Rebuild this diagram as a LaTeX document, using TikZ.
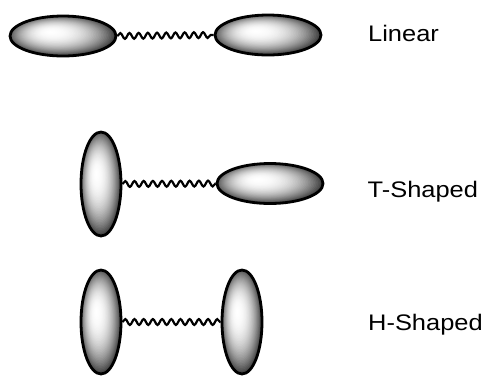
\documentclass[tikz,border=0pt]{standalone}
\usepackage{fontspec}
\setmainfont{Liberation Sans}
\usetikzlibrary{shapes.geometric,decorations.pathmorphing}
% stacked ellipses: dark rim fading to a white highlight at the upper left
% #1 = x radius, #2 = y radius (in pt)
\newcommand\lobeshading[2]{%
  \foreach \k in {0,...,44}{%
    \pgfmathsetmacro\t{\k/45}%
    \pgfmathsetmacro\p{100*(1-(1-\t)^2.3)}%
    \pgfmathsetmacro\sx{(1-\t)*1.16*#1}%
    \pgfmathsetmacro\sy{(1-\t)*1.16*#2}%
    \pgfmathsetmacro\ox{-0.24*\t*#1}%
    \pgfmathsetmacro\oy{0.2*\t*#2}%
    \fill[white!\p!black,shift={(path picture bounding box.center)}]
      (\ox pt,\oy pt) ellipse [x radius=\sx pt,y radius=\sy pt];
  }}
\begin{document}
\begin{tikzpicture}[x=1pt,y=-1pt,
  lobe/.style={ellipse,draw=black,line width=2.8pt,inner sep=0pt},
  hlobe/.style={lobe,minimum width=106pt,minimum height=40pt,
    path picture={\lobeshading{53}{20}}},
  vlobe/.style={lobe,minimum width=40pt,minimum height=104pt,
    path picture={\lobeshading{20}{52}}},
  spring/.style={line width=2.2pt,decorate,
    decoration={snake,segment length=9.2pt,amplitude=2.9pt}},
  label/.style={inner sep=0pt,anchor=base west,
    font=\fontsize{22.5pt}{27pt}\selectfont}]
\useasboundingbox (0,0) rectangle (490,376);

% Linear
\node[hlobe] (l1) at (63,36) {};
\node[hlobe] (l2) at (268,35) {};
\draw[spring] (l1.east) -- (l2.west);
\node[label] (tl) at (368,41) {\scalebox{1.13}[1]{Linear}};

% T-shaped
\node[vlobe] (t1) at (101,184) {};
\node[hlobe] (t2) at (270,183.5) {};
\draw[spring] (t1.east) -- (t2.west);
\node[label] (tt) at (367.5,197.7) {\scalebox{1.13}[1]{T-Shaped}};

% H-shaped
\node[vlobe] (h1) at (101,322) {};
\node[vlobe] (h2) at (242,322) {};
\draw[spring] (h1.east) -- (h2.west);
\node[label] (th) at (368,330) {\scalebox{1.13}[1]{H-Shaped}};
\end{tikzpicture}
\end{document}
